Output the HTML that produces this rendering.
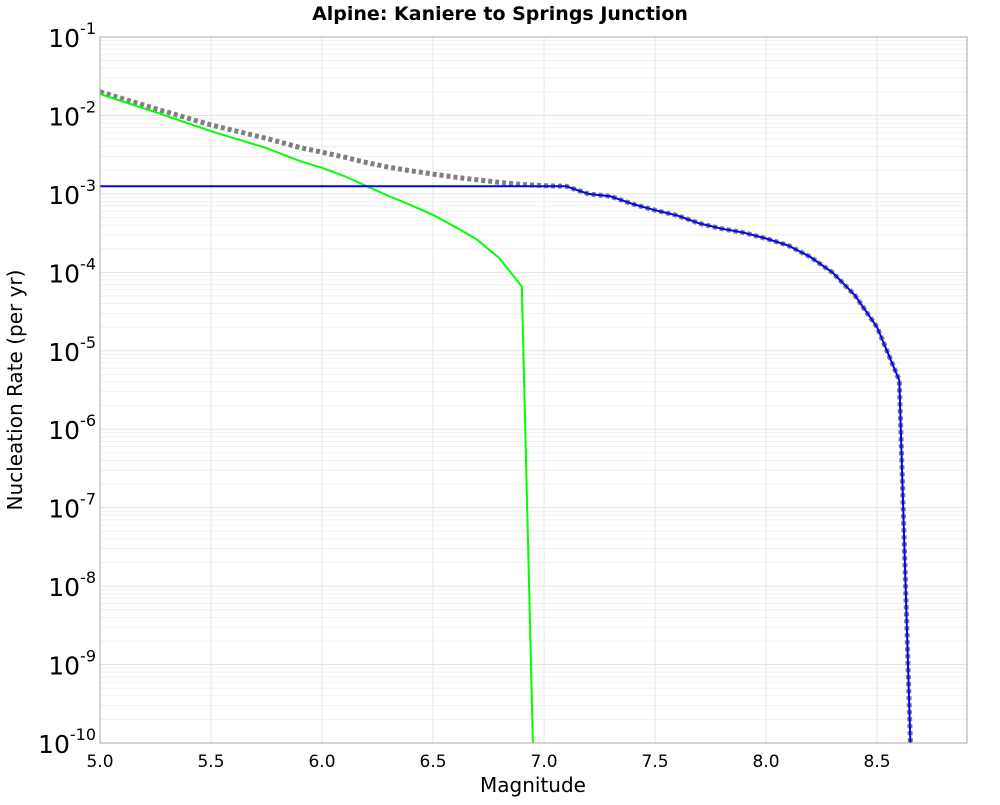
<!DOCTYPE html>
<html><head><meta charset="utf-8"><style>
body{margin:0;background:#fff;}
svg text{font-family:"DejaVu Sans","Liberation Sans",sans-serif;}
</style></head><body>
<svg id="chart" width="1000" height="800">
<text x="500" y="20" text-anchor="middle" font-size="19" font-weight="bold">Alpine: Kaniere to Springs Junction</text>
<g id="grid"></g>
<g id="yticks"></g>
<g id="xticks"></g>
<g id="series"></g>
<rect x="100" y="37" width="867" height="706" fill="none" stroke="#aaa" stroke-width="1"/>
<text x="533" y="792" text-anchor="middle" font-size="20">Magnitude</text>
<text transform="translate(22,390) rotate(-90)" text-anchor="middle" font-size="20">Nucleation Rate (per yr)</text>
</svg>
<script>
const xTicks=[5.0,5.5,6.0,6.5,7.0,7.5,8.0,8.5];
const yExps=[-1,-2,-3,-4,-5,-6,-7,-8,-9,-10];
const greenMag=[5.0,5.25,5.5,5.75,5.9,6.0,6.1,6.2,6.3,6.4,6.5,6.6,6.7,6.8,6.9,6.95];
const greenRate=[1.87e-2,1.1e-2,6.3e-3,3.84e-3,2.62e-3,2.15e-3,1.69e-3,1.26e-3,9.4e-4,7.2e-4,5.4e-4,3.8e-4,2.6e-4,1.5e-4,6.6e-5,1e-10];
const blueMag=[5.0,7.0,7.1,7.2,7.3,7.4,7.5,7.6,7.7,7.8,7.9,8.0,8.1,8.2,8.3,8.4,8.5,8.6,8.65];
const blueRate=[1.25e-3,1.25e-3,1.25e-3,1.0e-3,9.3e-4,7.4e-4,6.2e-4,5.3e-4,4.2e-4,3.6e-4,3.2e-4,2.7e-4,2.2e-4,1.57e-4,9.9e-5,5.1e-5,2.0e-5,4.2e-6,1e-10];
const grayMag=[5.0,5.25,5.5,5.75,5.9,6.0,6.1,6.2,6.3,6.4,6.5,6.6,6.7,6.8,6.9,7.0,7.1,7.2,7.3,7.4,7.5,7.6,7.7,7.8,7.9,8.0,8.1,8.2,8.3,8.4,8.5,8.6,8.65];
const grayRate=[2.0e-2,1.22e-2,7.55e-3,5.1e-3,3.9e-3,3.4e-3,2.94e-3,2.51e-3,2.19e-3,1.97e-3,1.79e-3,1.63e-3,1.51e-3,1.4e-3,1.32e-3,1.27e-3,1.25e-3,1.0e-3,9.3e-4,7.4e-4,6.2e-4,5.3e-4,4.2e-4,3.6e-4,3.2e-4,2.7e-4,2.2e-4,1.57e-4,9.9e-5,5.1e-5,2.0e-5,4.2e-6,1e-10];

const NS='http://www.w3.org/2000/svg';
const X0=100,X1=967,Y0=37,Y1=743;
const xmin=5.0,xmax=8.905,lmax=-1,lmin=-10;
function sx(m){return X0+(m-xmin)/(xmax-xmin)*(X1-X0);}
function sy(v){const l=Math.log10(v);return Y0+(lmax-l)/(lmax-lmin)*(Y1-Y0);}
function mk(tag,parent){const e=document.createElementNS(NS,tag);parent.appendChild(e);return e;}
const grid=document.getElementById('grid');
for(let e=-10;e<-1;e++){for(let k=2;k<=9;k++){const y=sy(k*Math.pow(10,e));
 const l=mk('line',grid);l.setAttribute('x1',X0);l.setAttribute('x2',X1);l.setAttribute('y1',y);l.setAttribute('y2',y);l.setAttribute('stroke','#f0f0f0');
 
 }}
const yt=document.getElementById('yticks');
yExps.forEach(e=>{const y=sy(Math.pow(10,e));
 const l=mk('line',grid);l.setAttribute('x1',X0);l.setAttribute('x2',X1);l.setAttribute('y1',y);l.setAttribute('y2',y);l.setAttribute('stroke','#e2e2e2');
 
 
 const t=mk('text',yt);t.setAttribute('x',96);t.setAttribute('y',y+10);t.setAttribute('text-anchor','end');t.setAttribute('font-size','25');
 
 
 t.innerHTML='10<tspan dy="-13" font-size="16">'+e+'</tspan>';});
const xt=document.getElementById('xticks');
xTicks.forEach(m=>{const x=sx(m);
 const l=mk('line',grid);l.setAttribute('x1',x);l.setAttribute('x2',x);l.setAttribute('y1',Y0);l.setAttribute('y2',Y1);l.setAttribute('stroke','#e6e6e6');
 
 
 const t=mk('text',xt);t.setAttribute('x',x);t.setAttribute('y',767);t.setAttribute('text-anchor','middle');t.setAttribute('font-size','17');
 
 
 t.textContent=m.toFixed(1);});
const S=document.getElementById('series');
function line(mags,rates,color,w,dash,name){const p=mk('polyline',S);
 p.setAttribute('points',mags.map((m,i)=>sx(m).toFixed(1)+','+sy(rates[i]).toFixed(1)).join(' '));
 p.setAttribute('fill','none');p.setAttribute('stroke',color);p.setAttribute('stroke-width',w);
 if(dash)p.setAttribute('stroke-dasharray',dash);
 
 }
line(grayMag,grayRate,'#808080',5,'4 3','total-mfd-line');
line(greenMag,greenRate,'#00ff00',2,null,'gr-mfd-line');
line(blueMag,blueRate,'#0000ff',2,null,'char-mfd-line');
</script>
</body></html>
